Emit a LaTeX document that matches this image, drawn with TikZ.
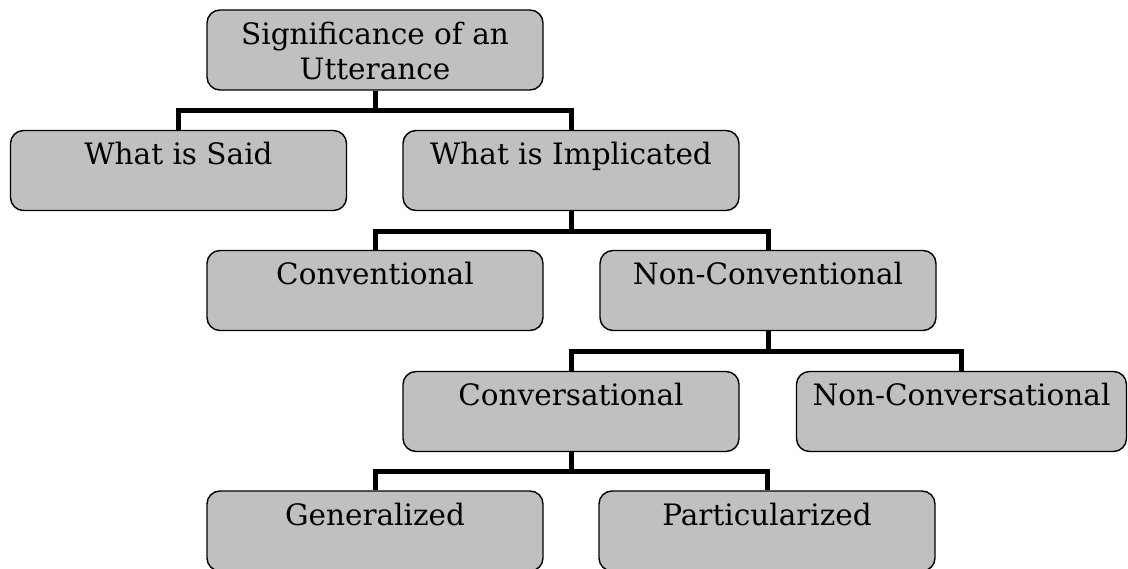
\documentclass[tikz,border=0pt]{standalone}
\usepackage{fontspec}
\setmainfont{DejaVu Serif}
\tikzset{
  box/.style={draw=black, line width=1.4pt, fill=boxgray, rounded corners=13pt,
    minimum width=336pt, minimum height=80pt, inner sep=0pt},
  txt/.style={anchor=base, inner sep=0pt, font=\fontsize{29.5}{35}\selectfont},
  conn/.style={draw=black, line width=5pt}
}
\definecolor{boxgray}{HTML}{C0C0C0}
\begin{document}
\begin{tikzpicture}[x=1pt,y=-1pt]
\clip (0,0) rectangle (1128,569);
\fill[white] (0,0) rectangle (1128,569);
% boxes
\node[box] (sig) at (375,50) {};
\node[box] (said) at (178.5,170.5) {};
\node[box] (impl) at (571,170.5) {};
\node[box] (conv) at (375,290.5) {};
\node[box] (nconv) at (768,290.5) {};
\node[box] (convers) at (571,411.5) {};
\node[box, minimum width=330pt] (nconvers) at (961.5,411.5) {};
\node[box] (gen) at (375,531) {};
\node[box] (part) at (767,531) {};
% texts
\node[txt] (sigA) at ([yshift=-35pt]sig.north) {Significance of an};
\node[txt] (sigB) at ([yshift=-70pt]sig.north) {Utterance};
\node[txt] (saidT) at ([yshift=-35pt]said.north) {What is Said};
\node[txt] (implT) at ([yshift=-35pt]impl.north) {What is Implicated};
\node[txt] (convT) at ([yshift=-35pt]conv.north) {Conventional};
\node[txt] (nconvT) at ([yshift=-35pt]nconv.north) {Non-Conventional};
\node[txt] (conversT) at ([yshift=-35pt]convers.north) {Conversational};
\node[txt] (nconversT) at ([yshift=-35pt]nconvers.north) {Non-Conversational};
\node[txt] (genT) at ([yshift=-35pt]gen.north) {Generalized};
\node[txt] (partT) at ([yshift=-35pt]part.north) {Particularized};
% connectors
\draw[conn] (sig.south) -- ++(0,20) -| (said.north);
\draw[conn] (sig.south) -- ++(0,20) -| (impl.north);
\draw[conn] (impl.south) -- ++(0,20) -| (conv.north);
\draw[conn] (impl.south) -- ++(0,20) -| (nconv.north);
\draw[conn] (nconv.south) -- ++(0,20) -| (convers.north);
\draw[conn] (nconv.south) -- ++(0,20) -| (nconvers.north);
\draw[conn] (convers.south) -- ++(0,19) -| (gen.north);
\draw[conn] (convers.south) -- ++(0,19) -| (part.north);
\end{tikzpicture}
\end{document}
